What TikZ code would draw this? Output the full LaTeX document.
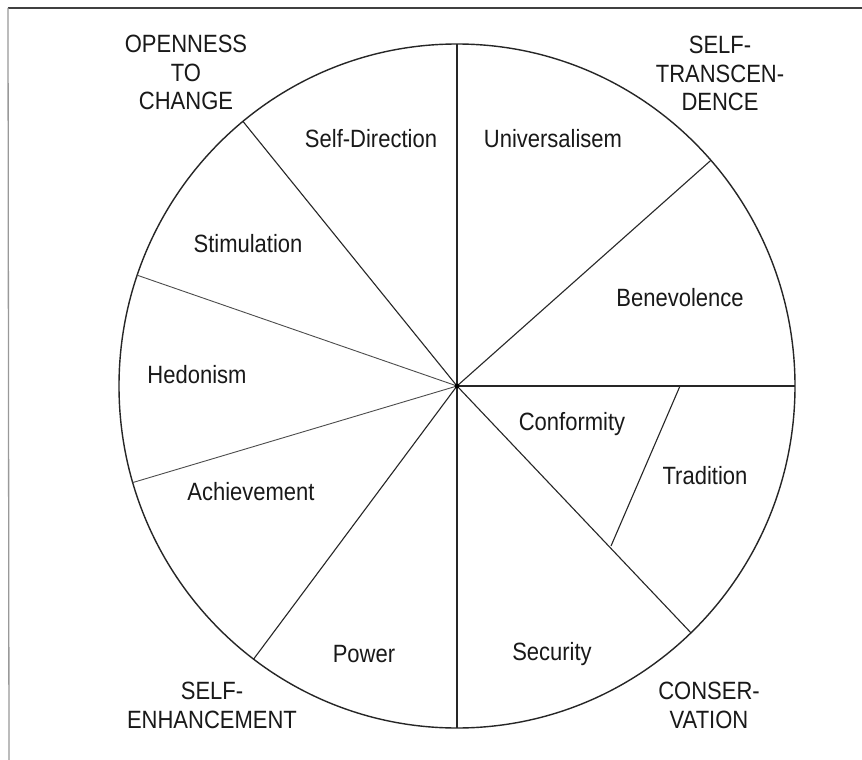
\documentclass[tikz,border=0pt]{standalone}
\usepackage{fontspec}
\setmainfont{Liberation Sans}[FakeStretch=0.88]
\usetikzlibrary{calc}
\begin{document}
\begin{tikzpicture}[x=1pt,y=-1pt,
  lbl/.style={font={\fontsize{25}{28.5}\selectfont}, text=black!90, inner sep=0pt, anchor=base},
  grp/.style={font={\fontsize{25}{28.5}\selectfont}, text=black!90, inner sep=0pt, anchor=north, align=center},
  spoke/.style={draw=black!85, line width=1.1pt},
  rim/.style={draw=black!85, line width=1.4pt}]
\useasboundingbox (0,0) rectangle (862,760);
\fill[white] (0,0) rectangle (862,760);
% scanned frame edges
\coordinate (f0) at (8,8);
\coordinate (f1) at (862,8);
\coordinate (f2) at (9,760);
\draw[black!75, line width=1.8pt] (f0) -- (f1);
\draw[black!40, line width=1.3pt] (f0) -- (f2);
% centre and rim points
\coordinate (c) at (457,386);
\coordinate (p1) at ($(c)+(90:338pt and 342pt)$);
\coordinate (p2) at ($(c)+(129.3:338pt and 342pt)$);
\coordinate (p3) at ($(c)+(161.1:338pt and 342pt)$);
\coordinate (p4) at ($(c)+(196.4:338pt and 342pt)$);
\coordinate (p5) at ($(c)+(233:338pt and 342pt)$);
\coordinate (p6) at ($(c)+(270:338pt and 342pt)$);
\coordinate (p7) at ($(c)+(313.8:338pt and 342pt)$);
\coordinate (p8) at ($(c)+(0:338pt and 342pt)$);
\coordinate (p9) at ($(c)+(41.3:338pt and 342pt)$);
\coordinate (t1) at (680,386);
\coordinate (t2) at (611,546);
% circle
\draw[rim] (c) ellipse [x radius=338pt, y radius=342pt];
% spokes
\foreach \p in {p1,p2,p5,p6,p7,p8,p9} \draw[spoke] (c) -- (\p);
\foreach \p in {p3,p4} \draw[spoke, draw=black!70, line width=0.9pt] (c) -- (\p);
\draw[spoke] (t1) -- (t2);
\fill[black] (c) circle [radius=2.4pt];
% sector labels
\node[lbl] (sd) at (371,147) {Self-Direction};
\node[lbl] (un) at (553,147) {Universalisem};
\node[lbl] (st) at (248,252) {Stimulation};
\node[lbl] (be) at (680,306) {Benevolence};
\node[lbl] (he) at (197,383) {Hedonism};
\node[lbl] (co) at (572,430) {Conformity};
\node[lbl] (tr) at (705,484) {Tradition};
\node[lbl] (ac) at (251,500) {Achievement};
\node[lbl] (po) at (364,662) {Power};
\node[lbl] (se) at (552,660) {Security};
% group labels
\node[grp] (oc) at (186,35) {OPENNESS\\TO\\CHANGE};
\node[grp] (stc) at (720,36) {SELF-\\TRANSCEN-\\DENCE};
\node[grp] (se2) at (212,682) {SELF-\\ENHANCEMENT};
\node[grp] (cv) at (709,682) {CONSER-\\VATION};
\end{tikzpicture}
\end{document}
